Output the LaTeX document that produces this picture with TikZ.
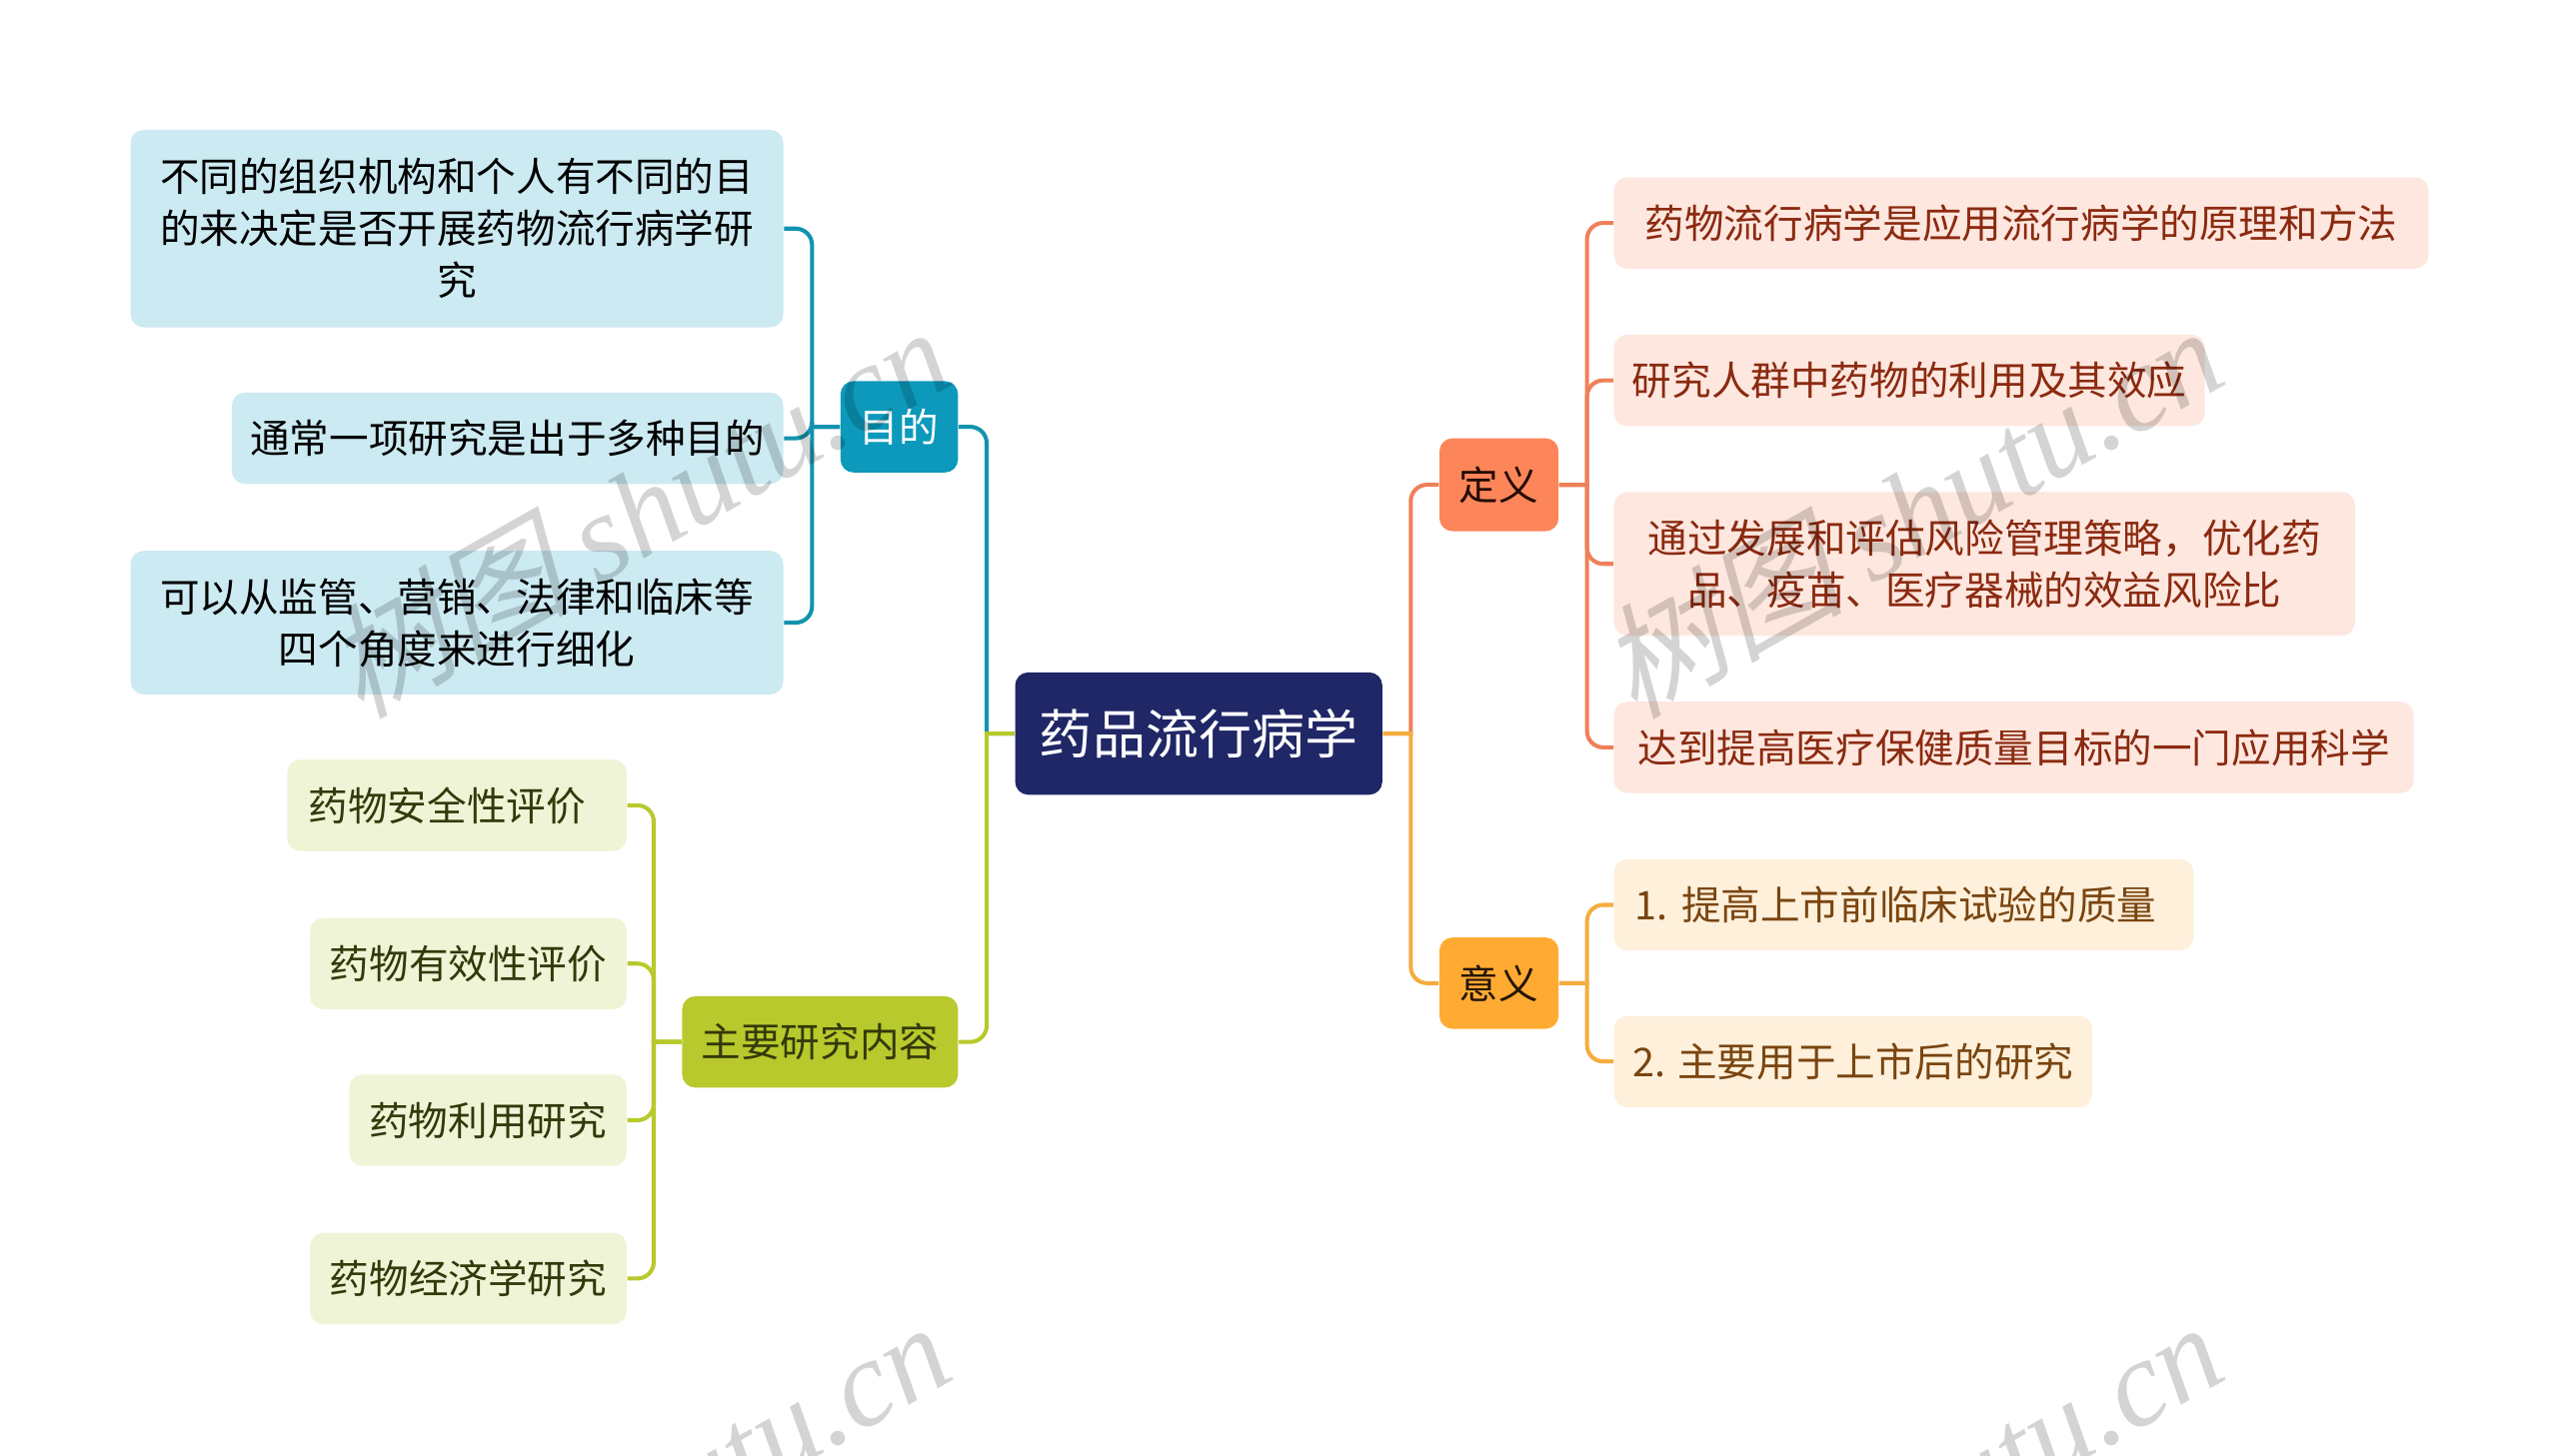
\documentclass[tikz,border=0pt]{standalone}
\usepackage{fontspec}
\setmainfont{Noto Sans CJK SC}
\newfontfamily\markfont[FakeSlant=0.25]{Noto Sans CJK SC}
\newfontfamily\marklatin{Liberation Serif Italic}
\newlength\ux
\setlength\ux{0.16327mm}
\definecolor{rootfill}{HTML}{1F2766}
\definecolor{tealfill}{HTML}{0C99BB}
\definecolor{tealline}{HTML}{1193AE}
\definecolor{tealleaf}{HTML}{CCEAF2}
\definecolor{greenfill}{HTML}{B7C92C}
\definecolor{greenleaf}{HTML}{F0F4D6}
\definecolor{greentext}{HTML}{33390A}
\definecolor{redfill}{HTML}{FC8659}
\definecolor{redline}{HTML}{EF8059}
\definecolor{redleaf}{HTML}{FDE7DF}
\definecolor{redtext}{HTML}{8B2A10}
\definecolor{orgfill}{HTML}{FFAB33}
\definecolor{orgline}{HTML}{F5AC3F}
\definecolor{orgleaf}{HTML}{FEF0DB}
\definecolor{orgtext}{HTML}{7A4510}
\tikzset{
  box/.style={rounded corners=8\ux,inner sep=0pt,align=center,minimum height=56\ux,
    font=\fontsize{11.27pt}{14.8pt}\selectfont},
  flushbox/.style={align=left,inner xsep=13\ux,text width=#1\ux},
  elbow/.style={line width=1.15pt,to path={(\tikztostart) [sharp corners] -- ++(#1\ux,0pt)
    [rounded corners=10\ux] |- (\tikztotarget)}},
  watermark/.style={rotate=29.5,text=black,text opacity=0.17,font=\fontsize{35pt}{35pt}\markfont}
}
\begin{document}
\begin{tikzpicture}[x=\ux,y=-\ux]
        \useasboundingbox (0,0.4) rectangle (1568,892.8);
        \clip (0,0.4) rectangle (1568,892.8);
        \begin{scope}[every node/.style={box,fill=tealleaf,text=black}]
        \node[minimum width=400\ux,minimum height=121\ux] (aim1) at (280,140.5) {不同的组织机构和个人有不同的目\\的来决定是否开展药物流行病学研\\究};
        \node[minimum width=338\ux] (aim2) at (311,269) {通常一项研究是出于多种目的};
        \node[minimum width=400\ux,minimum height=88\ux] (aim3) at (280,382) {可以从监管、营销、法律和临床等\\四个角度来进行细化};
        \end{scope}
        \begin{scope}[every node/.style={box,fill=greenleaf,text=greentext}]
        \node[flushbox=182] (study1) at (280,494) {药物安全性评价};
        \node[minimum width=194\ux] (study2) at (287,591) {药物有效性评价};
        \node[minimum width=170\ux] (study3) at (299,687) {药物利用研究};
        \node[minimum width=194\ux] (study4) at (287,784) {药物经济学研究};
        \end{scope}
        \begin{scope}[every node/.style={box,fill=redleaf,text=redtext}]
        \node[minimum width=499\ux] (def1) at (1238.5,137) {药物流行病学是应用流行病学的原理和方法};
        \node[minimum width=362\ux] (def2) at (1170,233.5) {研究人群中药物的利用及其效应};
        \node[minimum width=454\ux,minimum height=88\ux] (def3) at (1216,346) {通过发展和评估风险管理策略，优化药\\品、疫苗、医疗器械的效益风险比};
        \node[minimum width=490\ux] (def4) at (1234,458.5) {达到提高医疗保健质量目标的一门应用科学};
        \end{scope}
        \begin{scope}[every node/.style={box,fill=orgleaf,text=orgtext}]
        \node[flushbox=329] (use1) at (1166.5,555) {1.\ 提高上市前临床试验的质量};
        \node[minimum width=293\ux] (use2) at (1135.5,651) {2. 主要用于上市后的研究};
        \end{scope}
        \node[box,fill=rootfill,text=white,minimum width=225\ux,minimum height=75\ux,font=\fontsize{15.1pt}{18pt}\selectfont] (root) at (734.5,450) {药品流行病学};
        \node[box,fill=tealfill,text=white,minimum width=72\ux] (aim) at (551,262) {目的};
        \node[box,fill=greenfill,text=greentext,minimum width=169\ux] (study) at (502.5,639) {主要研究内容};
        \node[box,fill=redfill,text=black!75!redtext,minimum width=73\ux,minimum height=57\ux] (def) at (918.5,297.5) {定义};
        \node[box,fill=orgfill,text=black!70!orgtext,minimum width=73\ux] (use) at (918.5,603) {意义};
        \begin{scope}[every edge/.style={draw=tealline,elbow=-17}]
        \path (root.west) edge (aim.east)
              (aim.west) edge (aim1.east)
              (aim.west) edge (aim2.east)
              (aim.west) edge (aim3.east);
        \end{scope}
        \begin{scope}[every edge/.style={draw=greenfill,elbow=-17}]
        \path (root.west) edge (study.east)
              (study.west) edge (study1.east)
              (study.west) edge (study2.east)
              (study.west) edge (study3.east)
              (study.west) edge (study4.east);
        \end{scope}
        \begin{scope}[every edge/.style={draw=redline,elbow=17}]
        \path (root.east) edge (def.west)
              (def.east) edge (def1.west)
              (def.east) edge (def2.west)
              (def.east) edge (def3.west)
              (def.east) edge (def4.west);
        \end{scope}
        \begin{scope}[every edge/.style={draw=orgline,elbow=17}]
        \path (root.east) edge (use.west)
              (use.east) edge (use1.west)
              (use.east) edge (use2.west);
        \end{scope}
        \begin{scope}[every node/.style={watermark}]
        \node (mark1) at (390,313) {树图 {\marklatin shutu.cn}};
        \node (mark2) at (1170,313) {树图 {\marklatin shutu.cn}};
        \node (mark3) at (390,923) {树图 {\marklatin shutu.cn}};
        \node (mark4) at (1170,923) {树图 {\marklatin shutu.cn}};
        \end{scope}
        \end{tikzpicture}
\end{document}
